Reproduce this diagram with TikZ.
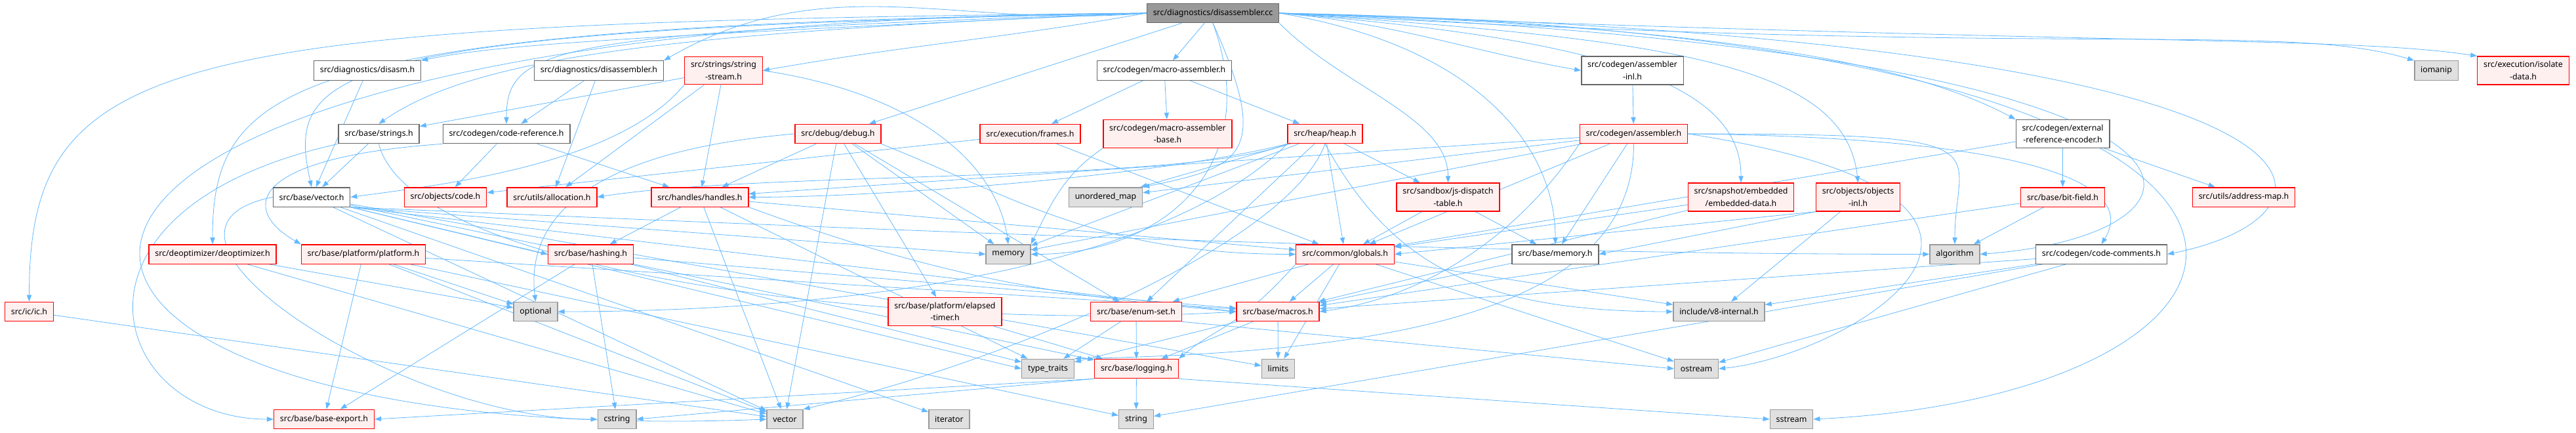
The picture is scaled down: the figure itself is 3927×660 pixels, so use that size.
\documentclass[tikz,border=0pt]{standalone}
\usepackage{fontspec}
\setmainfont{Noto Sans}
\usepackage{xcolor}
\usepackage{tikz}
\usetikzlibrary{arrows.meta,backgrounds}
\definecolor{edgeblue}{HTML}{63B8FF}
\definecolor{boxgray}{HTML}{666666}
\definecolor{sysgray}{HTML}{999999}
\definecolor{sysfill}{HTML}{E0E0E0}
\definecolor{redfill}{HTML}{FFF0F0}
\definecolor{redline}{HTML}{FF0000}
\tikzset{
    filebox/.style={
        rectangle, line width=1pt, inner xsep=7pt, inner ysep=5.5pt,
        minimum height=22pt, align=center,
        font=\fontsize{9.3}{14}\selectfont
    },
    rootbox/.style={filebox, draw=boxgray, fill=sysgray},
    plainbox/.style={filebox, draw=boxgray, fill=white},
    redbox/.style={filebox, draw=redline, fill=redfill},
    sysbox/.style={filebox, draw=sysgray, fill=sysfill},
    dep/.style={-{Triangle[length=7.5pt,width=5.5pt]},draw=edgeblue,line width=0.6pt}
}
\begin{document}
\begin{tikzpicture}[x=0.75pt,y=0.75pt]
\useasboundingbox (0,0) rectangle (3927,-660);

% ---- Root (y=20) ----
\node[rootbox] (root) at (1849,-20) {src/diagnostics/disassembler.cc};

% ---- Row 1 (y=107) ----
\node[plainbox] (disasm)   at (560,-107.5)  {src/diagnostics/disasm.h};
\node[plainbox] (disH)     at (913,-107.5)  {src/diagnostics/disassembler.h};
\node[redbox]   (sstreamH) at (1103,-107.5) {src/strings/string\\-stream.h};
\node[plainbox] (masm)     at (1775,-107.5) {src/codegen/macro-assembler.h};
\node[plainbox] (asminl)   at (2488.5,-107.5) {src/codegen/assembler\\-inl.h};
\node[sysbox]   (iomanip)  at (3714,-107.5) {iomanip};
\node[redbox]   (isodata)  at (3846.5,-107.5) {src/execution/isolate\\-data.h};

% ---- Row 2 (y=204) ----
\node[plainbox] (bstrings) at (577.5,-204)  {src/base/strings.h};
\node[plainbox] (coderef)  at (772,-204)    {src/codegen/code-reference.h};
\node[redbox]   (debug)    at (1277.5,-204) {src/debug/debug.h};
\node[redbox]   (frames)   at (1570.5,-204) {src/execution/frames.h};
\node[redbox]   (masmbase) at (1780,-204)   {src/codegen/macro-assembler\\-base.h};
\node[redbox]   (heap)     at (2020,-204)   {src/heap/heap.h};
\node[redbox]   (asm)      at (2490.5,-204) {src/codegen/assembler.h};
\node[plainbox] (extref)   at (3144.5,-204) {src/codegen/external\\-reference-encoder.h};

% ---- Row 3 (y=300) ----
\node[plainbox] (bvector)  at (475,-300.5)    {src/base/vector.h};
\node[redbox]   (code)     at (679,-300.5)    {src/objects/code.h};
\node[redbox]   (alloc)    at (841.5,-300.5)  {src/utils/allocation.h};
\node[redbox]   (handles)  at (1067,-300.5)   {src/handles/handles.h};
\node[sysbox]   (umap)     at (1685.5,-300.5) {unordered\_map};
\node[redbox]   (jsdt)     at (2207.5,-300.5) {src/sandbox/js-dispatch\\-table.h};
\node[redbox]   (embdata)  at (2654,-300.5)   {src/snapshot/embedded\\/embedded-data.h};
\node[redbox]   (objinl)   at (2832.5,-300.5) {src/objects/objects\\-inl.h};
\node[redbox]   (bitfield) at (3144.5,-300.5) {src/base/bit-field.h};
\node[redbox]   (addrmap)  at (3420.5,-300.5) {src/utils/address-map.h};

% ---- Row 4 (y=387) ----
\node[redbox]   (deopt)     at (324,-387.5)    {src/deoptimizer/deoptimizer.h};
\node[redbox]   (platform)  at (554,-387.5)    {src/base/platform/platform.h};
\node[redbox]   (hashing)   at (900.5,-387.5)  {src/base/hashing.h};
\node[sysbox]   (memory)    at (1537,-387.5)   {memory};
\node[redbox]   (globals)   at (2050.5,-387.5) {src/common/globals.h};
\node[plainbox] (bmemory)   at (2371,-387.5)   {src/base/memory.h};
\node[sysbox]   (algorithm) at (2980,-387.5)   {algorithm};
\node[plainbox] (comments)  at (3203.5,-387.5) {src/codegen/code-comments.h};

% ---- Row 5 (y=475) ----
\node[redbox] (ic)       at (44.5,-475)   {src/ic/ic.h};
\node[sysbox] (optional) at (816.5,-475)  {optional};
\node[redbox] (timer)    at (1440.5,-475) {src/base/platform/elapsed\\-timer.h};
\node[redbox] (enumset)  at (1732,-475)   {src/base/enum-set.h};
\node[redbox] (macros)   at (1948,-475)   {src/base/macros.h};
\node[sysbox] (v8int)    at (2620.5,-475) {include/v8-internal.h};

% ---- Row 6 (y=562) ----
\node[sysbox] (typetraits) at (1597.5,-562) {type\_traits};
\node[redbox] (logging)    at (1732.5,-562) {src/base/logging.h};
\node[sysbox] (limits)     at (1948.5,-562) {limits};
\node[sysbox] (ostream)    at (2586,-562)   {ostream};

% ---- Row 7 (y=639) ----
\node[redbox] (baseexport) at (494,-639)    {src/base/base-export.h};
\node[sysbox] (cstring)    at (940.5,-639)  {cstring};
\node[sysbox] (vectorstd)  at (1196.5,-639) {vector};
\node[sysbox] (iterator)   at (1447,-639)   {iterator};
\node[sysbox] (string)     at (1732,-639)   {string};
\node[sysbox] (sstream)    at (2731,-639)   {sstream};

\begin{scope}[on background layer]
% Root includes, left side
\draw[dep] (root.west) .. controls +(-1500,-15) and +(0,380) .. (ic.north);
\draw[dep] (root.west) .. controls +(-2000,-10) and +(-1300,-50) .. (vectorstd.west);
\draw[dep] (root.west) .. controls +(-1300,-20) and +(0,250) .. (deopt.north);
\draw[dep] (root.west) .. controls +(-1250,-25) and +(-40,180) .. (bvector.north);
\draw[dep] (root.west) .. controls +(-900,-40) and +(100,20) .. (disasm.north east);
\draw[dep] (root.west) .. controls +(-744,-30) and +(143,99) .. (bstrings.north);
\draw[dep] (root.west) .. controls +(-900,-30) and +(0,120) .. (coderef.north);
\draw[dep] (root.west) to[out=185,in=30] (disH.north east);
\draw[dep] (root.west) to[out=190,in=10] (sstreamH.east);
\draw[dep] (root) -- (debug);
\draw[dep] (root) -- (masm);
\draw[dep] (root.south) .. controls +(90,-200) and +(150,30) .. (umap.north east);
\draw[dep] (root.south) .. controls +(80,-220) and +(200,0) .. (memory.east);

% Root includes, right side
\draw[dep] (root.south east) .. controls +(100,-100) and +(0,100) .. (jsdt.north);
\draw[dep] (root.east) .. controls +(300,-50) and +(0,150) .. (bmemory.north);
\draw[dep] (root.east) to[out=-5,in=170] (asminl.west);
\draw[dep] (root.east) .. controls +(500,-40) and +(0,150) .. (embdata.north);
\draw[dep] (root.east) .. controls +(600,-40) and +(-20,180) .. (objinl.north);
\draw[dep] (root.east) .. controls +(700,-20) and +(-150,80) .. (extref.north west);
\draw[dep] (root.east) .. controls +(1550,-60) and +(400,30) .. (algorithm.east);
\draw[dep] (root.east) .. controls +(1700,-40) and +(300,60) .. (comments.east);
\draw[dep] (root.east) .. controls +(1750,-30) and +(800,40) .. (sstream.east);
\draw[dep] (root.east) .. controls +(1200,-70) and +(-200,60) .. (iomanip.north west);
\draw[dep] (root.east) .. controls +(1300,-50) and +(-200,30) .. (isodata.north west);

% Row 1 includes
\draw[dep] (disH) -- (coderef);
\draw[dep] (disH) -- (alloc);
\draw[dep] (disasm) -- (bvector);
\draw[dep] (sstreamH) -- (bstrings);
\draw[dep] (sstreamH.south west) .. controls +(-100,-120) and +(150,20) .. (bvector.east);
\draw[dep] (sstreamH) -- (alloc);
\draw[dep] (sstreamH) -- (handles);
\draw[dep] (sstreamH.east) .. controls +(234,-35) and +(-17,123) .. (memory.north);
\draw[dep] (masm) -- (frames);
\draw[dep] (masm) -- (masmbase);
\draw[dep] (masm) -- (heap);
\draw[dep] (asminl) -- (asm);

% Row 2 includes
\draw[dep] (bstrings) -- (bvector);
\draw[dep] (bstrings.south west) .. controls +(-450,-100) and +(-250,0) .. (baseexport.west);
\draw[dep] (bstrings.south) .. controls +(50,-200) and +(-500,-30) .. (macros.west);
\draw[dep] (coderef) -- (code);
\draw[dep] (coderef) -- (handles);
\draw[dep] (coderef.south west) .. controls +(-297,-21) and +(-93,53) .. (platform.north west);
\draw[dep] (debug.west) .. controls +(-308,-26) and +(-16,130) .. (optional.north);
\draw[dep] (debug) -- (handles);
\draw[dep] (debug) -- (memory);
\draw[dep] (debug) -- (vectorstd);
\draw[dep] (debug) -- (enumset);
\draw[dep] (debug) -- (timer);
\draw[dep] (debug.south east) .. controls +(200,-80) and +(-300,0) .. (globals.west);
\draw[dep] (frames) -- (code);
\draw[dep] (frames) -- (globals);
\draw[dep] (masmbase.south west) .. controls +(-60,-40) and +(30,60) .. (memory.north east);
\draw[dep] (heap) -- (umap);
\draw[dep] (heap.south west) .. controls +(-150,-60) and +(250,40) .. (alloc.east);
\draw[dep] (heap.south west) .. controls +(-200,-50) and +(200,0) .. (handles.east);
\draw[dep] (heap) -- (memory);
\draw[dep] (heap.south west) .. controls +(-200,-200) and +(400,0) .. (optional.east);
\draw[dep] (heap.south) .. controls +(-60,-161) and +(273,62) .. (vectorstd.north east);
\draw[dep] (heap.south) .. controls +(100,-181) and +(-300,0) .. (v8int.west);
\draw[dep] (heap) -- (enumset);
\draw[dep] (heap) -- (globals);
\draw[dep] (heap) -- (jsdt);
\draw[dep] (asm.east) .. controls +(500,0) and +(0,150) .. (algorithm.north);
\draw[dep] (asm) -- (memory);
\draw[dep] (asm.east) .. controls +(650,-100) and +(200,20) .. (ostream.east);
\draw[dep] (asm.south) .. controls +(0,-250) and +(500,10) .. (typetraits.north east);
\draw[dep] (asm) -- (umap);
\draw[dep] (asm.south west) .. controls +(-100,-150) and +(150,20) .. (macros.east);
\draw[dep] (asm) -- (bmemory);
\draw[dep] (asm.east) .. controls +(522,-6) and +(57,93) .. (comments.north);
\draw[dep] (asm) -- (globals);
\draw[dep] (asm) -- (handles);
\draw[dep] (extref) -- (bitfield);
\draw[dep] (extref) -- (addrmap);
\draw[dep] (extref) -- (globals);

% Row 3 includes
\draw[dep] (bvector.south east) .. controls +(600,-25) and +(-800,0) .. (algorithm.west);
\draw[dep] (bvector.west) .. controls +(-250,-50) and +(-300,0) .. (cstring.west);
\draw[dep] (bvector) -- (iterator);
\draw[dep] (bvector) -- (limits);
\draw[dep] (bvector.south east) -- (memory.west);
\draw[dep] (bvector.south east) -- (typetraits.west);
\draw[dep] (bvector.south east) -- (hashing.west);
\draw[dep] (bvector) -- (logging);
\draw[dep] (bvector.south east) -- (macros.west);
\draw[dep] (bvector) -- (vectorstd);
\draw[dep] (handles) -- (hashing);
\draw[dep] (handles) -- (typetraits);
\draw[dep] (handles) -- (vectorstd);
\draw[dep] (handles.south east) to[out=-20,in=175] (macros.west);
\draw[dep] (handles) -- (globals);
\draw[dep] (jsdt) -- (globals);
\draw[dep] (jsdt) -- (bmemory);
\draw[dep] (embdata) -- (globals);
\draw[dep] (embdata) -- (macros);
\draw[dep] (objinl.south west) -- (globals.east);
\draw[dep] (objinl) -- (v8int);
\draw[dep] (objinl.south west) -- (bmemory.east);
\draw[dep] (bitfield) -- (algorithm);
\draw[dep] (bitfield) -- (macros);

% Row 4 includes
\draw[dep] (deopt) -- (optional);
\draw[dep] (deopt) -- (vectorstd);
\draw[dep] (platform) -- (optional);
\draw[dep] (platform) -- (baseexport);
\draw[dep] (platform) -- (string);
\draw[dep] (platform) -- (vectorstd);
\draw[dep] (platform) -- (macros);
\draw[dep] (hashing) -- (cstring);
\draw[dep] (hashing) -- (baseexport);
\draw[dep] (hashing) -- (typetraits);
\draw[dep] (hashing) -- (macros);
\draw[dep] (globals) -- (limits);
\draw[dep] (globals) -- (ostream);
\draw[dep] (globals) -- (v8int);
\draw[dep] (globals) -- (enumset);
\draw[dep] (globals.south west) .. controls +(-90,-100) and +(60,50) .. (logging.north east);
\draw[dep] (globals) -- (macros);
\draw[dep] (bmemory) -- (macros);
\draw[dep] (comments) -- (ostream);
\draw[dep] (comments) -- (string);
\draw[dep] (comments) -- (v8int);
\draw[dep] (comments) -- (macros);

% Row 5 includes
\draw[dep] (ic) -- (vectorstd);
\draw[dep] (timer) -- (logging);
\draw[dep] (enumset) -- (typetraits);
\draw[dep] (enumset) -- (logging);
\draw[dep] (enumset.south east) -- (ostream.west);
\draw[dep] (macros) -- (typetraits);
\draw[dep] (macros) -- (logging);
\draw[dep] (macros) -- (limits);

% Row 6 includes
\draw[dep] (logging) -- (string);
\draw[dep] (logging.south west) -- (baseexport.east);
\draw[dep] (logging.south west) -- (cstring.east);
\draw[dep] (logging.south east) -- (sstream.west);
\end{scope}

\end{tikzpicture}
\end{document}
